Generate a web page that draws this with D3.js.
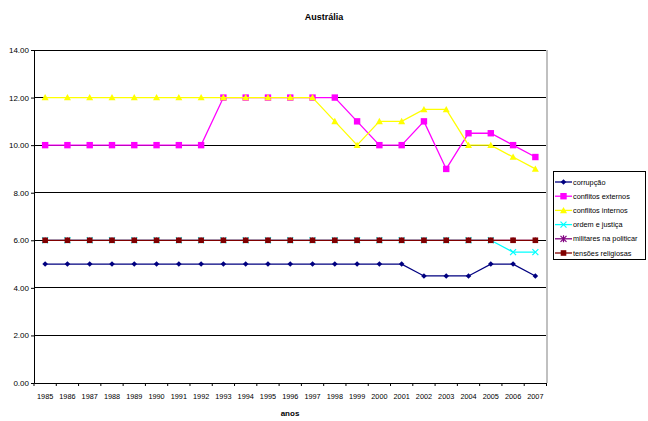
<!DOCTYPE html>
<html><head><meta charset="utf-8">
<script src="https://cdn.jsdelivr.net/npm/d3@7"></script>
<style>body{margin:0;background:#fff}svg{display:block;font-family:"Liberation Sans",Arial,sans-serif}</style>
</head><body>
<svg id="c" width="648" height="421"></svg>
<script>
const years = ["1985","1986","1987","1988","1989","1990","1991","1992","1993","1994","1995","1996","1997","1998","1999","2000","2001","2002","2003","2004","2005","2006","2007"];
const corrupcao = [5,5,5,5,5,5,5,5,5,5,5,5,5,5,5,5,5,4.5,4.5,4.5,5,5,4.5];
const conflitosExternos = [10,10,10,10,10,10,10,10,12,12,12,12,12,12,11,10,10,11,9,10.5,10.5,10,9.5];
const conflitosInternos = [12,12,12,12,12,12,12,12,12,12,12,12,12,11,10,11,11,11.5,11.5,10,10,9.5,9];
const ordemJustica = [6,6,6,6,6,6,6,6,6,6,6,6,6,6,6,6,6,6,6,6,6,5.5,5.5];
const militares = [6,6,6,6,6,6,6,6,6,6,6,6,6,6,6,6,6,6,6,6,6,6,6];
const tensoes = [6,6,6,6,6,6,6,6,6,6,6,6,6,6,6,6,6,6,6,6,6,6,6];
const yTicks = [0,2,4,6,8,10,12,14];

const series = [
  {name:"corrupção", values:corrupcao, color:"#000080", marker:"diamond", size:2.8},
  {name:"conflitos externos", values:conflitosExternos, color:"#ff00ff", marker:"square", size:3.2},
  {name:"conflitos internos", values:conflitosInternos, color:"#ffff00", marker:"triangle", size:3.5},
  {name:"ordem e justiça", values:ordemJustica, color:"#00ffff", marker:"x", size:3},
  {name:"militares na politicar", values:militares, color:"#800080", marker:"star", size:3},
  {name:"tensões religiosas", values:tensoes, color:"#800000", marker:"square", size:2.8}
];

const svg = d3.select("#c");
const L=34, R=546.5, T=50, B=383;
const x = d3.scaleBand().domain(years).range([L,R]);
const y = d3.scaleLinear().domain([0,14]).range([B,T]);

svg.append("text").attr("x",324).attr("y",20).attr("text-anchor","middle")
  .attr("font-size",9).attr("font-weight","bold").text("Austrália");

svg.append("g").selectAll("line").data(yTicks.filter(d=>d>0)).join("line")
  .attr("x1",L).attr("x2",R).attr("y1",d=>y(d)).attr("y2",d=>y(d))
  .attr("stroke","#000").attr("stroke-width",1).attr("shape-rendering","crispEdges");
svg.append("line").attr("x1",R+0.5).attr("x2",R+0.5).attr("y1",T).attr("y2",B)
  .attr("stroke","#c0c0c0").attr("stroke-width",2);

const ya = svg.append("g").attr("transform",`translate(${L},0)`)
  .call(d3.axisLeft(y).tickValues(yTicks).tickFormat(d3.format(".2f")).tickSize(3).tickPadding(2));
ya.select(".domain").attr("stroke","#000");
ya.selectAll("text").attr("font-size",8).attr("font-family","Liberation Sans, Arial").attr("fill","#000");

const xa = svg.append("g").attr("transform",`translate(0,${B})`)
  .call(d3.axisBottom(x).tickSize(0).tickPadding(11));
xa.select(".domain").attr("stroke","#000");
xa.selectAll("text").attr("font-size",7.3).attr("font-family","Liberation Sans, Arial").attr("fill","#000");
const bounds = years.map(d=>x(d)).concat([R]);
svg.append("g").selectAll("line").data(bounds).join("line")
  .attr("x1",d=>d).attr("x2",d=>d).attr("y1",B).attr("y2",B+3).attr("stroke","#000");

svg.append("text").attr("x",290).attr("y",416).attr("text-anchor","middle")
  .attr("font-size",8).attr("font-weight","bold").text("anos");

const cx = d => x(d)+x.bandwidth()/2;
const line = d3.line().x((d,i)=>cx(years[i])).y(d=>y(d));

function drawMarker(g, type, color, px, py, s){
  if(type==="diamond"){
    g.append("path").attr("d",`M${px},${py-s}L${px+s},${py}L${px},${py+s}L${px-s},${py}Z`).attr("fill",color);
  } else if(type==="square"){
    g.append("rect").attr("x",px-s).attr("y",py-s).attr("width",2*s).attr("height",2*s).attr("fill",color);
  } else if(type==="triangle"){
    g.append("path").attr("d",`M${px},${py-s}L${px+s},${py+s*0.8}L${px-s},${py+s*0.8}Z`).attr("fill",color);
  } else if(type==="x"){
    g.append("path").attr("d",`M${px-s},${py-s}L${px+s},${py+s}M${px-s},${py+s}L${px+s},${py-s}`).attr("stroke",color).attr("stroke-width",1.2);
  } else if(type==="star"){
    g.append("path").attr("d",`M${px-s},${py-s}L${px+s},${py+s}M${px-s},${py+s}L${px+s},${py-s}M${px},${py-s-0.5}L${px},${py+s+0.5}`).attr("stroke",color).attr("stroke-width",1.2);
  }
}

series.forEach(s=>{
  const g = svg.append("g");
  g.append("path").attr("d",line(s.values)).attr("fill","none").attr("stroke",s.color).attr("stroke-width",1.3);
  // purple star markers sit under the dark red squares in the reference
  const ms = s.marker==="star" ? 2.2 : s.size;
  s.values.forEach((v,i)=>drawMarker(g,s.marker,s.color,cx(years[i]),y(v),ms));
});

const lg = svg.append("g");
lg.append("rect").attr("x",553.5).attr("y",171.5).attr("width",92).attr("height",88)
  .attr("fill","#fff").attr("stroke","#000").attr("stroke-width",1);
series.forEach((s,i)=>{
  const ly = 182 + i*14.2;
  lg.append("line").attr("x1",555).attr("x2",572).attr("y1",ly).attr("y2",ly).attr("stroke",s.color).attr("stroke-width",1.3);
  drawMarker(lg,s.marker,s.color,563.5,ly,s.size);
  lg.append("text").attr("x",573).attr("y",ly+2.6).attr("font-size",7.3).text(s.name);
});
</script>
</body></html>
